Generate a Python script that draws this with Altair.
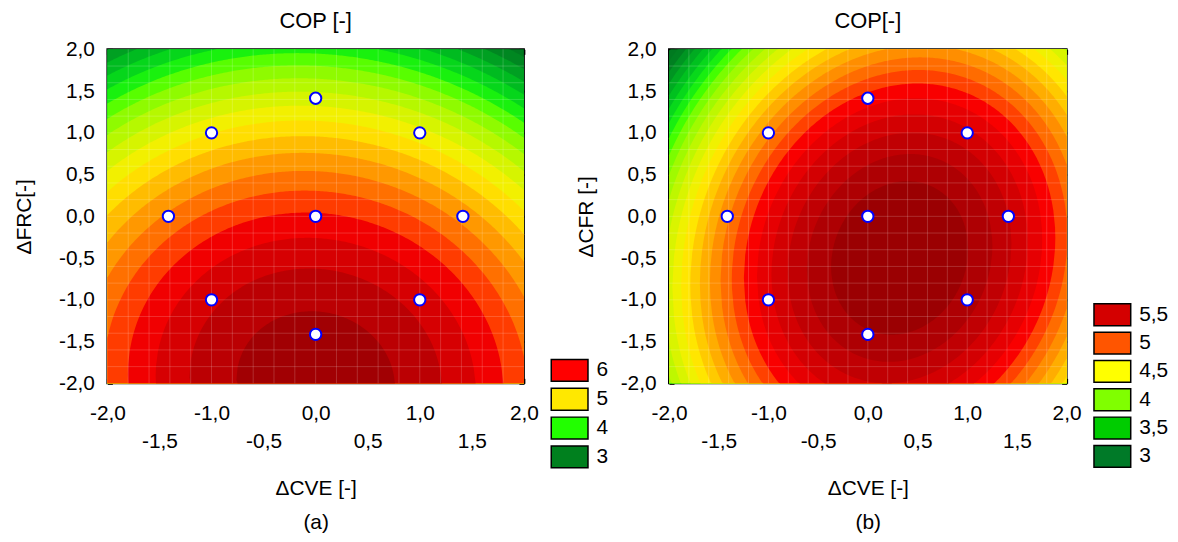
import math
import numpy as np
import pandas as pd
import altair as alt

# ---------------------------------------------------------------------------
# Data
# quadratic response surfaces  f = b0 + b1*x + b2*y + b11*x^2 + b22*y^2 + b12*x*y
coef_a = [6.03, -0.04, -0.70, -0.225, -0.175, -0.02]     # COP vs dCVE, dFRC
coef_b = [5.814, 0.232, -0.197, -0.320, -0.180, 0.055]   # COP vs dCVE, dCFR

# contour levels (lower bounds of the filled bands)
levels_a = [2.8, 3.0, 3.2, 3.4, 3.6, 3.8, 4.0, 4.2, 4.4, 4.6, 4.8, 5.0, 5.2,
            5.4, 5.6, 5.8, 6.0, 6.2, 6.4, 6.6]
step_a = 0.2
levels_b = [2.75, 2.875, 3.0, 3.125, 3.25, 3.375, 3.5, 3.625, 3.75, 3.875, 4.0,
            4.125, 4.25, 4.375, 4.5, 4.625, 4.75, 4.875, 5.0, 5.125, 5.25,
            5.375, 5.5, 5.625, 5.75]
step_b = 0.125

# experimental design points (central composite design)
design_x = [-1.0, 1.0, -1.0, 1.0, -1.414, 1.414, 0.0, 0.0, 0.0]
design_y = [-1.0, -1.0, 1.0, 1.0, 0.0, 0.0, -1.414, 1.414, 0.0]

# colour maps
stops_a = [3.0, 4.0, 5.0, 6.0, 6.9]
stops_b = [2.9, 3.65, 4.4, 5.15, 5.95]
palette = ["#007a20", "#22ff00", "#ffee00", "#ff0000", "#880000"]

legend_labels_a = ["6", "5", "4", "3"]
legend_colours_a = ["#ff0000", "#ffe800", "#22ff00", "#00801e"]
legend_labels_b = ["5,5", "5", "4,5", "4", "3,5", "3"]
legend_colours_b = ["#d40000", "#ff5500", "#ffff00", "#80ff00", "#00cc00", "#007a28"]

tick_values = [-2.0, -1.5, -1.0, -0.5, 0.0, 0.5, 1.0, 1.5, 2.0]
mesh_values = [-1.8, -1.6, -1.4, -1.2, -1.0, -0.8, -0.6, -0.4, -0.2, 0.0,
               0.2, 0.4, 0.6, 0.8, 1.0, 1.2, 1.4, 1.6, 1.8]
x_samples = list(np.linspace(-2.0, 2.0, 241))


# ---------------------------------------------------------------------------
def superlevel_table(coef, levels, step):
    """For each level L, the x-wise y-interval where f >= L (clipped to the plot)."""
    b0, b1, b2, b11, b22, b12 = coef
    rows = []
    qa = b12 ** 2 - 4 * b22 * b11
    qb = 2 * b2 * b12 - 4 * b22 * b1
    for L in levels:
        qc = b2 ** 2 - 4 * b22 * (b0 - L)
        extra = []
        d = qb * qb - 4 * qa * qc
        if d >= 0:
            for r in ((-qb - math.sqrt(d)) / (2 * qa), (-qb + math.sqrt(d)) / (2 * qa)):
                if -2 <= r <= 2:
                    extra.append(r)
        for x in sorted(x_samples + extra):
            B = b2 + b12 * x
            C = b0 + b1 * x + b11 * x * x - L
            disc = B * B - 4 * b22 * C
            if disc < 0:
                if disc > -1e-9:
                    disc = 0.0
                else:
                    continue
            s = math.sqrt(disc)
            r1 = (-B + s) / (2 * b22)
            r2 = (-B - s) / (2 * b22)
            lo, hi = min(r1, r2), max(r1, r2)
            rows.append({
                "x": x,
                "ylo": min(max(lo, -2.0), 2.0),
                "yhi": min(max(hi, -2.0), 2.0),
                "level": L,
                "tone": L + step / 2,
            })
    return pd.DataFrame(rows)


def axis_label_expr(two_rows):
    fmt = "(datum.value < 0 ? '-' : '') + replace(format(abs(datum.value), '.1f'), '.', ',')"
    if two_rows:
        return f"(abs(datum.value % 1) < 0.001) ? {fmt} : ['', {fmt}]"
    return fmt


FONT = "Liberation Sans"
LABEL_SIZE = 21
TITLE_SIZE = 21


def panel(coef, levels, step, stops, title, ytitle, sub, width, leg_labels, leg_colours,
          leg_x, leg_y, leg_pad):
    surf = superlevel_table(coef, levels, step)
    pts = pd.DataFrame({"px": design_x, "py": design_y})
    leg = pd.DataFrame({"label": leg_labels})
    mesh = pd.DataFrame({"m": mesh_values})

    xscale = alt.Scale(domain=[-2, 2], nice=False, zero=False)
    yscale = alt.Scale(domain=[-2, 2], nice=False, zero=False)

    bands = alt.Chart(surf).mark_area(interpolate="linear").encode(
        x=alt.X("x:Q", scale=xscale, axis=alt.Axis(
            orient="bottom", values=tick_values, offset=-5, tickSize=5, tickWidth=2,
            tickColor="black", domain=False, grid=False, labelOverlap=False,
            labelFlush=False, labelBound=False,
            labelExpr=axis_label_expr(True), labelLineHeight=29, labelPadding=19,
            labelFontSize=LABEL_SIZE, labelColor="black", labelFont=FONT,
            title=["ΔCVE [-]", sub], titleFontSize=TITLE_SIZE, titleFontWeight="normal",
            titleLineHeight=34, titlePadding=26, titleColor="black", titleFont=FONT)),
        y=alt.Y("ylo:Q", scale=yscale, axis=alt.Axis(
            orient="left", values=tick_values, offset=-5, tickSize=5, tickWidth=2,
            tickColor="black", domain=False, grid=False, labelOverlap=False,
            labelFlush=False, labelBound=False,
            labelExpr=axis_label_expr(False), labelPadding=13,
            labelFontSize=LABEL_SIZE, labelColor="black", labelFont=FONT,
            title=ytitle, titleFontSize=TITLE_SIZE, titleFontWeight="normal",
            titlePadding=24, titleColor="black", titleFont=FONT)),
        y2="yhi:Q",
        color=alt.Color("tone:Q", scale=alt.Scale(domain=stops, range=palette, clamp=True),
                        legend=None),
        detail="level:N",
    )

    vmesh = alt.Chart(mesh).mark_rule(color="white", opacity=0.18, strokeWidth=1).encode(
        x=alt.X("m:Q", scale=xscale, axis=None))
    hmesh = alt.Chart(mesh).mark_rule(color="white", opacity=0.18, strokeWidth=1).encode(
        y=alt.Y("m:Q", scale=yscale, axis=None))

    points = alt.Chart(pts).mark_point(
        shape="circle", filled=True, fill="white", stroke="#0000ff", strokeWidth=2,
        size=130, opacity=1
    ).encode(
        x=alt.X("px:Q", scale=xscale, axis=alt.Axis(
            orient="top", values=tick_values, offset=-5, tickSize=5, tickWidth=2,
            tickColor="black", domain=False, grid=False, labels=False, title=None)),
        y=alt.Y("py:Q", scale=yscale, axis=alt.Axis(
            orient="right", values=tick_values, offset=-5, tickSize=5, tickWidth=2,
            tickColor="black", domain=False, grid=False, labels=False, title=None)),
    )

    legend_layer = alt.Chart(leg).mark_square(
        filled=True, opacity=0, stroke="black", strokeWidth=1.5
    ).encode(
        color=alt.Color("label:N", sort=None,
                        scale=alt.Scale(domain=leg_labels, range=leg_colours),
                        legend=alt.Legend(
                            orient="none", legendX=leg_x, legendY=leg_y, title=None,
                            symbolType="M-1.68,-1H1.68V1H-1.68Z", symbolSize=484,
                            symbolStrokeColor="black", symbolStrokeWidth=1.5,
                            symbolOpacity=1, labelFontSize=LABEL_SIZE, labelFont=FONT,
                            labelColor="black", labelOffset=15, rowPadding=leg_pad,
                            padding=0)),
    )

    return alt.layer(bands, vmesh, hmesh, points, legend_layer).resolve_scale(
        color="independent"
    ).resolve_axis(x="independent", y="independent").properties(
        width=width, height=336,
        title=alt.TitleParams(title, fontSize=22, fontWeight="normal", font=FONT,
                              color="black", frame="group", anchor="middle", offset=5),
    )


left = panel(coef_a, levels_a, step_a, stops_a, "COP [-]", "ΔFRC[-]", "(a)", 419,
             legend_labels_a, legend_colours_a, 453, 311, 1)
right = panel(coef_b, levels_b, step_b, stops_b, "COP[-]", "ΔCFR [-]", "(b)", 400,
              legend_labels_b, legend_colours_b, 434, 255, 0.5)

chart = alt.hconcat(left, right, spacing=146, bounds="flush").configure(
    font=FONT, padding={"left": 4, "top": 0, "right": 0, "bottom": 0}
).configure_view(stroke="black", strokeWidth=2)

chart.save("out.html", embed_options={"renderer": "svg", "actions": False})
